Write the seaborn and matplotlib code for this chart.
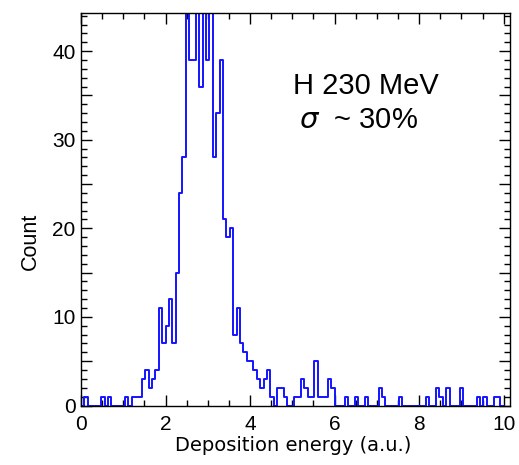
import numpy as np
import pandas as pd
import matplotlib
matplotlib.use("Agg")
import matplotlib.pyplot as plt
from matplotlib.ticker import MultipleLocator, FuncFormatter
import seaborn as sns

# histogram of deposited energy, 125 bins of 0.08 a.u. from 0 to 10
# (bins above 44 run off the top of the frame, as in the original)
bin_width = 0.08
counts = [
    0, 1, 0, 0, 0, 0, 1, 0, 1, 0,          # 0.00 - 0.80
    0, 0, 0, 1, 0, 1, 1, 1, 3, 4,          # 0.80 - 1.60
    2, 3, 4, 11, 7, 9, 12, 7, 15, 24,      # 1.60 - 2.40
    28, 47, 39, 39, 48, 36, 46, 39, 47, 28,  # 2.40 - 3.20
    33, 39, 21, 19, 20, 8, 11, 7, 6, 5,    # 3.20 - 4.00
    5, 4, 3, 2, 3, 4, 1, 0, 2, 2,          # 4.00 - 4.80
    1, 0, 0, 1, 1, 3, 2, 1, 1, 5,          # 4.80 - 5.60
    1, 1, 1, 3, 2, 0, 0, 0, 1, 0,          # 5.60 - 6.40
    0, 1, 0, 0, 1, 0, 0, 0, 2, 1,          # 6.40 - 7.20
    0, 0, 0, 0, 1, 0, 0, 0, 0, 0,          # 7.20 - 8.00
    0, 0, 1, 0, 0, 2, 1, 0, 2, 0,          # 8.00 - 8.80
    0, 0, 2, 0, 0, 0, 0, 1, 0, 1,          # 8.80 - 9.60
    0, 0, 1, 1, 0,                         # 9.60 - 10.00
]
x_ticks = [0, 2, 4, 6, 8, 10]
y_ticks = [0, 10, 20, 30, 40]
label_lines = ["H 230 MeV", r"$\sigma$  ~ 30%"]

edges = np.arange(len(counts) + 1) * bin_width
df = pd.DataFrame({"energy": (edges[:-1] + edges[1:]) / 2, "count": counts})

sns.set_style("ticks")
plt.rcParams["font.family"] = ["Liberation Sans", "DejaVu Sans"]
plt.rcParams["mathtext.fontset"] = "dejavusans"
plt.rcParams["text.color"] = "black"
plt.rcParams["axes.labelcolor"] = "black"

fig = plt.figure(figsize=(5.19, 4.65), dpi=100)
ax = fig.add_axes([81 / 519, 1 - 405.5 / 465, 429 / 519, 392.5 / 465])

sns.histplot(data=df, x="energy", weights="count", bins=list(edges),
             element="step", fill=False, color="#1414ff", linewidth=1.4, ax=ax)

ax.set_xlim(0, 10.15)
ax.set_ylim(0, 44.3)

ax.xaxis.set_major_locator(MultipleLocator(2))
ax.xaxis.set_minor_locator(MultipleLocator(0.5))
ax.yaxis.set_major_locator(MultipleLocator(5))
ax.yaxis.set_minor_locator(MultipleLocator(1))
ax.yaxis.set_major_formatter(FuncFormatter(lambda v, p: f"{v:.0f}" if round(v) in y_ticks else ""))
ax.xaxis.set_major_formatter(FuncFormatter(lambda v, p: f"{v:.0f}" if round(v) in x_ticks else ""))

ax.tick_params(which="both", direction="in", top=True, right=True,
               colors="black", labelcolor="black", width=1.0)
ax.tick_params(which="major", length=8)
ax.tick_params(which="minor", length=4)
ax.tick_params(axis="x", which="major", labelsize=15, pad=7)
ax.tick_params(axis="y", which="major", labelsize=15, pad=4)

for s in ax.spines.values():
    s.set_color("black")
    s.set_linewidth(1.0)

ax.set_xlabel("Deposition energy (a.u.)", fontsize=14, family="DejaVu Sans")
ax.xaxis.set_label_coords(0.4935, -0.078)
ax.xaxis.label.set_va("top")
ax.set_ylabel("Count", fontsize=15.5)
ax.yaxis.set_label_coords(-0.093, 0.417)

ax.text(5.02, 35.2, label_lines[0], fontsize=21, va="baseline", ha="left")
ax.text(5.15, 31.3, label_lines[1], fontsize=21, va="baseline", ha="left")

fig.savefig("out.png", dpi=100)
plt.close(fig)
